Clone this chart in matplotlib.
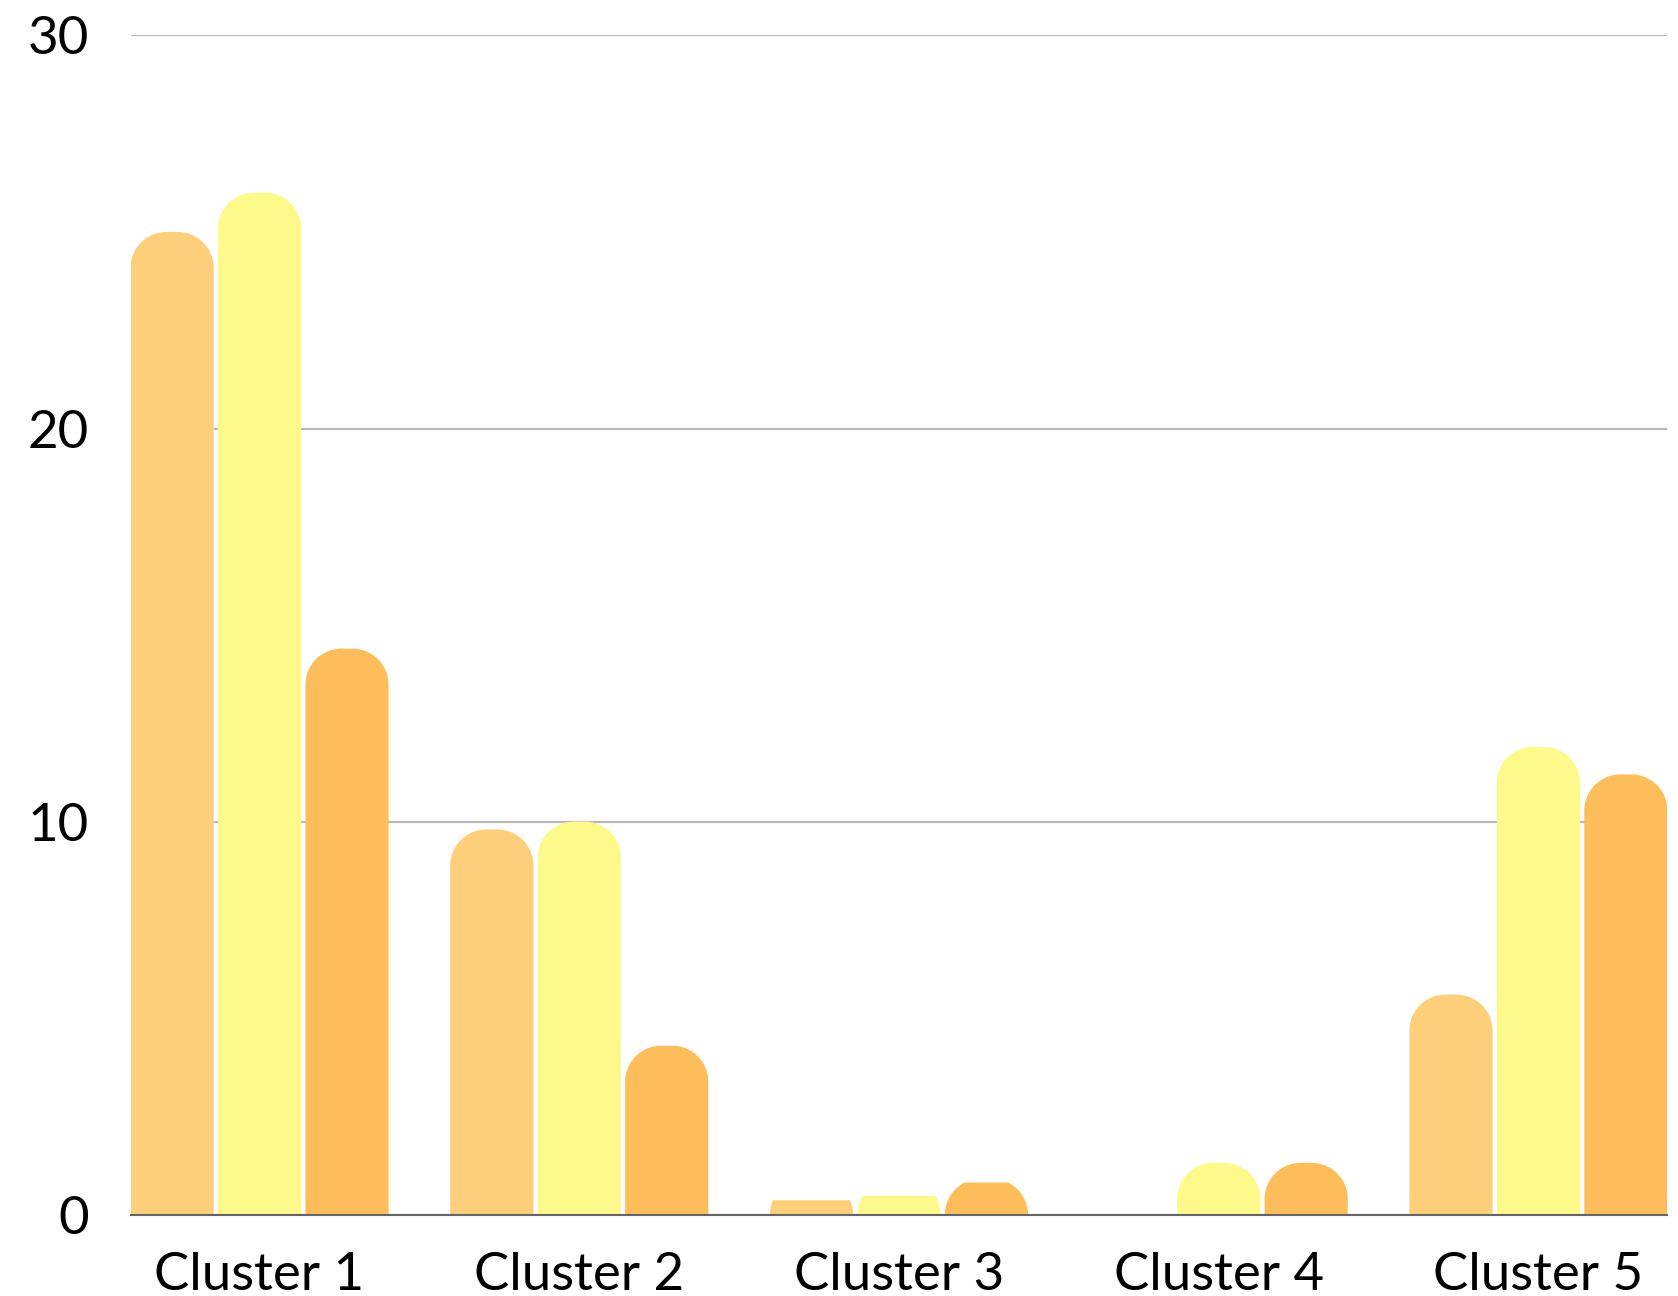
import numpy as np
import matplotlib as mpl
mpl.use('Agg')
import matplotlib.pyplot as plt
from matplotlib.path import Path
from matplotlib.patches import PathPatch

# data
clusters = ['Cluster 1', 'Cluster 2', 'Cluster 3', 'Cluster 4', 'Cluster 5']
series_a = [25.0, 9.8, 0.37, 0.0, 5.6]
series_b = [26.0, 10.0, 0.48, 1.32, 11.9]
series_c = [14.4, 4.3, 0.82, 1.32, 11.2]
yticks = [0, 10, 20, 30]

colors = ['#fdcf7a', '#fdf98b', '#febd5b']
bar_w = 0.26
step = 0.2735
radius_px = 36

plt.rcParams['font.family'] = ['Lato', 'DejaVu Sans']

fig = plt.figure(figsize=(16.78, 12.96), dpi=100)
ax = fig.add_axes([0.0778, 0.0627, 0.9159, 0.910])
ax.set_xlim(-0.4035, 4.4035)
ax.set_ylim(0, 30)

x = np.arange(len(clusters))
bars = []
for i, (vals, c) in enumerate(zip([series_a, series_b, series_c], colors)):
    bars.append((ax.bar(x + (i - 1) * step, vals, width=bar_w, color=c), c))

# swap the plain rectangles for ones with rounded tops
fig.canvas.draw()
x0d, y0d = ax.transData.transform((0, 0))
x1d, y1d = ax.transData.transform((1, 1))
rx = radius_px / (x1d - x0d)
ry = radius_px / (y1d - y0d)
for cont, c in bars:
    for rect in cont:
        l, w, h = rect.get_x(), rect.get_width(), rect.get_height()
        rect.remove()
        if h <= 0:
            continue
        r = l + w
        cy = max(h - ry, 0)
        theta = np.arcsin(min(1.0, (h - cy) / ry))
        a = np.linspace(np.pi, np.pi - theta, 30)
        left_arc = np.column_stack([l + rx + rx * np.cos(a), cy + ry * np.sin(a)])
        right_arc = np.column_stack([r - rx - rx * np.cos(a[::-1]), cy + ry * np.sin(a[::-1])])
        verts = np.vstack([[(l, 0)], left_arc, right_arc, [(r, 0), (l, 0)]])
        ax.add_patch(PathPatch(Path(verts, closed=True), facecolor=c,
                               edgecolor='none', zorder=2))

ax.set_yticks(yticks)
ax.set_yticklabels([str(t) for t in yticks])
ax.set_xticks(x)
ax.set_xticklabels(clusters)
ax.tick_params(axis='y', length=0, pad=30, labelsize=38)
ax.tick_params(axis='x', length=0, pad=26.5, labelsize=38)
ax.yaxis.grid(True, color='#bababa', linewidth=1.6, zorder=0)
ax.set_axisbelow(True)
for s in ['top', 'right', 'left']:
    ax.spines[s].set_visible(False)
ax.spines['bottom'].set_color('#666666')
ax.spines['bottom'].set_linewidth(1.5)
ax.spines['bottom'].set_zorder(3)

plt.savefig('out.png', dpi=100)
